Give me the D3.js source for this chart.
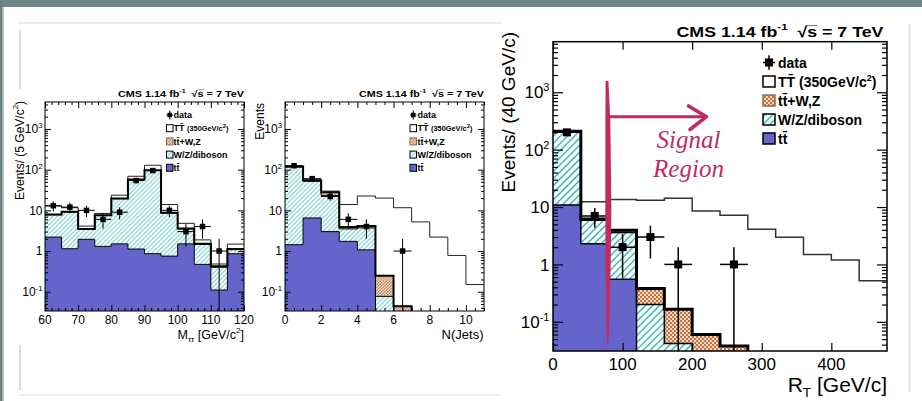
<!DOCTYPE html>
<html><head><meta charset="utf-8">
<script src="https://cdn.jsdelivr.net/npm/d3@7"></script>
<style>
body{margin:0;background:#fff}
svg{display:block}
</style>
</head><body>
<svg id="c" width="922" height="401" font-family="Liberation Sans, Arial, Helvetica, sans-serif"></svg>
<script>
// ---------------- DATA ----------------
// Panel 1 : M_tautau (bins of 5 GeV, lower edges)
const mttBins = [60,65,70,75,80,85,90,95,100,105,110,115];
const mttTT   = [2.2,1.14,1.94,1.3,1.5,1.12,0.86,0.75,1.5,0.47,0.11,0.86];
const mttWZ   = [5.6,7.96,1.46,6.2,17.9,55.7,95.1,7.85,2.0,0.99,0.29,0.22];
const mttTTV  = [0.1,0.1,0.1,0.1,0.2,0.3,0.4,0.1,0.1,0.05,0.02,0.05];
const mttSig  = [4.9,2.4,0.6,0.8,4.0,11.7,32,5.2,1.2,0.37,0.06,0.35];
const mttData = [13,12,10,6,9,54,95,10,3,4,1,0];
const mttTicks = [60,70,80,90,100,110,120];

// Panel 2 : N(Jets)
const njBins = [0,1,2,3,4,5,6,7,8,9,10];
const njTT   = [1.43,6.5,3.0,1.73,1.07,0,0,0,0,0,0];
const njWZ   = [114.6,45.5,20,1.77,2.63,0.077,0,0,0,0,0];
const njTTV  = [3,2.5,5,0.4,0.4,0.17,0.044,0,0,0,0];
const njSig  = [2,1.5,1.7,10,18.4,19.75,11.55,5.2,2.2,0.78,0.15];
const njData = [125,60,22,6,4,0,1,0,0,0,0];
const njTicks = [0,2,4,6,8,10];

// Panel 3 : R_T (bins of 40 GeV/c)
const rtBins = [0,40,80,120,160,200,240,280,320,360,400,440];
const rtTT   = [10.8,2.3,0.55,0,0,0,0,0,0,0,0,0];
const rtWZ   = [195,3.6,3.05,0.2,0.042,0,0,0,0,0,0,0];
const rtTTV  = [4,0.3,0.35,0.18,0.124,0.06,0.038,0,0,0,0,0];
const rtSig  = [2,6.2,9.6,12.8,14.0,8.44,7.16,4.1,2.96,1.49,1.19,0.52];
const rtData = [200,7,2,3,1,0,1,0,0,0,0,0];
const rtTicks = [0,100,200,300,400];

const yDecades = [0.1,1,10,100,1000];
const yDecadeLabels = ["10^{-1}","1","10","10^{2}","10^{3}"];
const titleText = "CMS 1.14 fb^{-1}  \u221As\u0305 = 7 TeV";
const legendBig   = ["data","TT\u0304 (350GeV/c^{2})","tt\u0304+W,Z","W/Z/diboson","tt\u0304"];
const legendSmall = ["data","TT\u0304 ~{(350GeV/c}^{2}~{)}","tt\u0304+W,Z","W/Z/diboson","tt\u0304"];
const annotationLines = ["Signal","Region"];

// ---------------- SETUP ----------------
const svg = d3.select('#c');
const defs = svg.append('defs');
svg.append('rect').attr('width',922).attr('height',401).attr('fill','#fff');

// page decorations
svg.append('rect').attr('x',0).attr('y',0).attr('width',922).attr('height',7).attr('fill','#6c8585');
svg.append('rect').attr('x',0).attr('y',0).attr('width',2.7).attr('height',401).attr('fill','#6c8282');
svg.append('rect').attr('x',2.7).attr('y',7).attr('width',1.4).attr('height',394).attr('fill','#b9c3c3');
svg.append('line').attr('x1',18).attr('x2',501).attr('y1',23).attr('y2',23).attr('stroke','#e4e4e4').attr('stroke-width',1.3);
svg.append('line').attr('x1',18).attr('x2',500).attr('y1',395).attr('y2',395).attr('stroke','#e8e8e8').attr('stroke-width',1.3);
svg.append('line').attr('x1',20).attr('x2',20).attr('y1',30).attr('y2',89).attr('stroke','#cfcfcf').attr('stroke-width',1.5);
svg.append('line').attr('x1',20).attr('x2',20).attr('y1',345).attr('y2',390).attr('stroke','#cfcfcf').attr('stroke-width',1.5);
svg.append('line').attr('x1',909.5).attr('x2',909.5).attr('y1',24).attr('y2',392).attr('stroke','#e2e2e2').attr('stroke-width',2);

// patterns
function hatch(id, s, color, sw){
  const p = defs.append('pattern').attr('id',id).attr('patternUnits','userSpaceOnUse')
    .attr('width',s).attr('height',s).attr('patternTransform','rotate(45)');
  p.append('rect').attr('width',s).attr('height',s).attr('fill','#fff');
  p.append('line').attr('x1',s/2).attr('y1',0).attr('x2',s/2).attr('y2',s).attr('stroke',color).attr('stroke-width',sw);
}
function checker(id, s, c1, c2){
  const p = defs.append('pattern').attr('id',id).attr('patternUnits','userSpaceOnUse')
    .attr('width',s).attr('height',s);
  p.append('rect').attr('width',s).attr('height',s).attr('fill',c2);
  p.append('rect').attr('width',s/2).attr('height',s/2).attr('fill',c1);
  p.append('rect').attr('x',s/2).attr('y',s/2).attr('width',s/2).attr('height',s/2).attr('fill',c1);
}
hatch('h1',3.2,'#5cc4c4',0.9);
hatch('h3',5,'#1aa8a8',1.3);
checker('k1',3,'#c88a5e','#f2dcc8');
checker('k3',4,'#bf7442','#f3d9c3');

// rich text: ^{sup} _{sub} ~{small}
function parseRich(s){
  const out=[]; const re=/(\^\{[^}]*\}|_\{[^}]*\}|~\{[^}]*\})/;
  s.split(re).forEach(tok=>{
    if(!tok) return;
    if(tok.startsWith('^{')) out.push({t:tok.slice(2,-1),k:'sup'});
    else if(tok.startsWith('_{')) out.push({t:tok.slice(2,-1),k:'sub'});
    else if(tok.startsWith('~{')) out.push({t:tok.slice(2,-1),k:'small'});
    else out.push({t:tok,k:'n'});
  });
  return out;
}
function richText(parent, str, o){
  const t = parent.append('text').attr('x',o.x||0).attr('y',o.y||0)
    .attr('font-size',o.size).attr('text-anchor',o.anchor||'start')
    .attr('font-weight',o.weight||'normal').attr('fill',o.fill||'#000')
    .style('white-space','pre');
  if(o.transform) t.attr('transform',o.transform);
  let cur=0;
  parseRich(str).forEach(p=>{
    let off=0, fs=o.size;
    if(p.k==='sup'){off=-o.size*0.42; fs=o.size*0.65;}
    else if(p.k==='sub'){off=o.size*0.25; fs=o.size*0.65;}
    else if(p.k==='small'){fs=o.size*(o.smallScale||0.8);}
    t.append('tspan').attr('dy',(off-cur).toFixed(2)).attr('font-size',fs).text(p.t);
    cur=off;
  });
  if(o.len) t.attr('textLength',o.len).attr('lengthAdjust','spacingAndGlyphs');
  return t;
}

// ---------------- PANELS ----------------
const BLUE = '#6464cb';
const panels = [
  {id:'p1', x0:45, x1:244, y0:102, y1:311, xDom:[60,120], yDom:[0.0336,4600],
   data:{bins:mttBins,w:5,tt:mttTT,wz:mttWZ,ttv:mttTTV,sig:mttSig,obs:mttData},
   xMajor:mttTicks, xMinorStep:2, majLen:6, minLen:3, yMajLen:6, yMinLen:3,
   tickFont:12, xLabY:323.5, yLabX:42.5,
   title:{x:244,y:96.5,size:9,len:126},
   xTitle:{text:"M_{\u03C4\u03C4} [GeV/c^{2}]",x:244,y:338.5,size:12.5},
   yTitle:{text:"Events/ (5 GeV/c^{2})",x:23.5,y:101,size:12},
   legend:{bx:166.5,tx:173.5,y0:115,dy:13.2,bw:6.5,bh:7,size:9,labels:legendSmall,mk:4.5},
   lw:{frame:1,comp:1,tot:2,sig:1,err:1,tick:1,mk:5.5},
   hatch:'h1',check:'k1',sigColor:'#222'},
  {id:'p2', x0:285, x1:484, y0:102, y1:311, xDom:[0,11], yDom:[0.0336,4600],
   data:{bins:njBins,w:1,tt:njTT,wz:njWZ,ttv:njTTV,sig:njSig,obs:njData},
   xMajor:njTicks, xMinorStep:0.5, majLen:6, minLen:3, yMajLen:6, yMinLen:3,
   tickFont:12, xLabY:323.5, yLabX:282,
   title:{x:484,y:96.5,size:9,len:125},
   xTitle:{text:"N(Jets)",x:483.5,y:338.5,size:13},
   yTitle:{text:"Events",x:263.5,y:103,size:12},
   legend:{bx:410,tx:417.5,y0:115,dy:13.2,bw:6.5,bh:7,size:9,labels:legendSmall,mk:4.5},
   lw:{frame:1,comp:1,tot:2,sig:1,err:1,tick:1,mk:5.5},
   hatch:'h1',check:'k1',sigColor:'#222'},
  {id:'p3', x0:553, x1:887, y0:41.7, y1:351, xDom:[0,480], yDom:[0.031,7600],
   data:{bins:rtBins,w:40,tt:rtTT,wz:rtWZ,ttv:rtTTV,sig:rtSig,obs:rtData},
   xMajor:rtTicks, xMinorStep:null, majLen:8, minLen:4, yMajLen:10, yMinLen:5,
   tickFont:17, xLabY:370, yLabX:549.5,
   title:{x:883.5,y:36.5,size:15,len:207},
   xTitle:{text:"R_{T} [GeV/c]",x:887,y:391.5,size:21},
   yTitle:{text:"Events/ (40 GeV/c)",x:514.5,y:32,size:19},
   legend:{bx:763,tx:778,y0:62.5,dy:19,bw:12,bh:11,size:14,labels:legendBig,mk:8},
   lw:{frame:1.5,comp:1.5,tot:3,sig:1.5,err:1.5,tick:1.2,mk:8},
   hatch:'h3',check:'k3',sigColor:'#333'}
];

function drawPanel(P){
  const D = P.data;
  const x = d3.scaleLinear().domain(P.xDom).range([P.x0,P.x1]);
  const y = d3.scaleLog().domain(P.yDom).range([P.y1,P.y0]);
  const clipId='clip'+P.id;
  defs.append('clipPath').attr('id',clipId).append('rect')
    .attr('x',P.x0).attr('y',P.y0).attr('width',P.x1-P.x0).attr('height',P.y1-P.y0);
  const g = svg.append('g');
  const pg = g.append('g').attr('clip-path',`url(#${clipId})`);
  const low = P.y1+30;
  const yv = v => v>0 ? y(v) : low;
  const n = D.bins.length;
  const end = D.bins[n-1]+D.w;
  const c1 = D.tt.slice();
  const c2 = c1.map((v,i)=>v+D.wz[i]);
  const c3 = c2.map((v,i)=>v+D.ttv[i]);
  const c4 = c3.map((v,i)=>v+D.sig[i]);

  // stacked fills as step areas (no seams)
  const area = d3.area().x(d=>x(d[0])).y0(d=>yv(d[1])).y1(d=>yv(d[2])).curve(d3.curveStepAfter);
  const ptsA = (lo,hi) => D.bins.map((b,i)=>[b, lo?lo[i]:0, hi[i]]).concat([[end, lo?lo[n-1]:0, hi[n-1]]]);
  [[null,c1,BLUE],[c1,c2,`url(#${P.hatch})`],[c2,c3,`url(#${P.check})`]].forEach(([lo,hi,fill])=>{
    pg.append('path').attr('d',area(ptsA(lo,hi))).attr('fill',fill);
  });
  const step = d3.line().x(d=>x(d[0])).y(d=>yv(d[1])).curve(d3.curveStepAfter);
  const pts = arr => D.bins.map((b,i)=>[b,arr[i]]).concat([[end, arr[n-1]]]);
  pg.append('path').attr('d',step(pts(c4))).attr('fill','none').attr('stroke',P.sigColor).attr('stroke-width',P.lw.sig);
  [c1,c2].forEach(c=>pg.append('path').attr('d',step(pts(c))).attr('fill','none')
    .attr('stroke','#000').attr('stroke-width',P.lw.comp));
  pg.append('path').attr('d',step(pts(c3))).attr('fill','none').attr('stroke','#000').attr('stroke-width',P.lw.tot);

  // data points
  const obs = D.bins.map((b,i)=>({b,v:D.obs[i]})).filter(d=>d.v>0);
  const dg = pg.append('g').attr('stroke','#000').attr('stroke-width',P.lw.err);
  dg.selectAll('line.v').data(obs).join('line').attr('class','v')
    .attr('x1',d=>x(d.b+D.w/2)).attr('x2',d=>x(d.b+D.w/2))
    .attr('y1',d=>y(d.v+Math.sqrt(d.v)))
    .attr('y2',d=>d.v-Math.sqrt(d.v)>0?y(d.v-Math.sqrt(d.v)):low);
  dg.selectAll('line.h').data(obs).join('line').attr('class','h')
    .attr('x1',d=>x(d.b)).attr('x2',d=>x(d.b+D.w)).attr('y1',d=>y(d.v)).attr('y2',d=>y(d.v));
  pg.append('g').selectAll('rect').data(obs).join('rect')
    .attr('x',d=>x(d.b+D.w/2)-P.lw.mk/2).attr('y',d=>y(d.v)-P.lw.mk/2)
    .attr('width',P.lw.mk).attr('height',P.lw.mk).attr('fill','#000');

  // axes ticks (inward, all four sides)
  const ax = (gen, tr, vals, len) => g.append('g').attr('transform',tr)
    .call(gen.tickValues(vals).tickSize(-len).tickFormat(''))
    .call(s=>{s.select('.domain').remove(); s.selectAll('line').attr('stroke','#000').attr('stroke-width',P.lw.tick);});
  let xMinor = [];
  if(P.xMinorStep){ xMinor = d3.range(P.xDom[0], P.xDom[1]+1e-9, P.xMinorStep).filter(v=>!P.xMajor.some(m=>Math.abs(m-v)<1e-9)); }
  const yMaj = yDecades.filter(v=>v>=P.yDom[0]&&v<=P.yDom[1]);
  const yMin = [];
  [0.01,0.1,1,10,100,1000].forEach(d=>{for(let k=2;k<=9;k++){const v=d*k; if(v>=P.yDom[0]&&v<=P.yDom[1]) yMin.push(v);}});
  ax(d3.axisBottom(x), `translate(0,${P.y1})`, P.xMajor, P.majLen);
  ax(d3.axisTop(x), `translate(0,${P.y0})`, P.xMajor, P.majLen);
  if(xMinor.length){
    ax(d3.axisBottom(x), `translate(0,${P.y1})`, xMinor, P.minLen);
    ax(d3.axisTop(x), `translate(0,${P.y0})`, xMinor, P.minLen);
  }
  ax(d3.axisLeft(y), `translate(${P.x0},0)`, yMaj, P.yMajLen);
  ax(d3.axisRight(y), `translate(${P.x1},0)`, yMaj, P.yMajLen);
  ax(d3.axisLeft(y), `translate(${P.x0},0)`, yMin, P.yMinLen);
  ax(d3.axisRight(y), `translate(${P.x1},0)`, yMin, P.yMinLen);

  g.append('rect').attr('x',P.x0).attr('y',P.y0).attr('width',P.x1-P.x0).attr('height',P.y1-P.y0)
    .attr('fill','none').attr('stroke','#000').attr('stroke-width',P.lw.frame);

  // tick labels
  P.xMajor.forEach(v=>g.append('text').attr('x',x(v)).attr('y',P.xLabY).attr('text-anchor','middle')
    .attr('font-size',P.tickFont).text(v));
  yDecades.forEach((v,i)=>{
    if(v<P.yDom[0]||v>P.yDom[1]) return;
    richText(g, yDecadeLabels[i], {x:P.yLabX, y:y(v)+P.tickFont*0.36, size:P.tickFont, anchor:'end'});
  });

  // titles
  richText(g, titleText, {x:P.title.x, y:P.title.y, size:P.title.size, anchor:'end', weight:'bold', len:P.title.len});
  richText(g, P.xTitle.text, {x:P.xTitle.x, y:P.xTitle.y, size:P.xTitle.size, anchor:'end'});
  richText(g, P.yTitle.text, {size:P.yTitle.size, anchor:'end', transform:`translate(${P.yTitle.x},${P.yTitle.y}) rotate(-90)`});

  // legend
  const L = P.legend;
  L.labels.forEach((lab,i)=>{
    const cy = L.y0 + i*L.dy;
    if(i===0){
      const cx = L.bx + L.bw/2;
      g.append('line').attr('x1',L.bx).attr('x2',L.bx+L.bw).attr('y1',cy).attr('y2',cy).attr('stroke','#000').attr('stroke-width',P.lw.err);
      g.append('line').attr('x1',cx).attr('x2',cx).attr('y1',cy-L.bh*0.65).attr('y2',cy+L.bh*0.65).attr('stroke','#000').attr('stroke-width',P.lw.err);
      g.append('rect').attr('x',cx-L.mk/2).attr('y',cy-L.mk/2).attr('width',L.mk).attr('height',L.mk).attr('fill','#000');
    } else {
      const fill = [null,'#fff',`url(#${P.check})`,`url(#${P.hatch})`,BLUE][i];
      g.append('rect').attr('x',L.bx).attr('y',cy-L.bh/2).attr('width',L.bw).attr('height',L.bh)
        .attr('fill',fill).attr('stroke',i===2?'#8a6a55':'#000').attr('stroke-width',P.lw.comp);
    }
    richText(g, lab, {x:L.tx, y:cy+L.size*0.36, size:L.size, weight:'bold', smallScale:0.82});
  });
}
panels.forEach(drawPanel);

// ---------------- ANNOTATION ----------------
const CRIM = '#bf2d5e';
const an = svg.append('g');
an.append('path').attr('d','M605.6,81 L608.4,81 L610.3,120 L611.4,210 L610.6,270 L609,333 L607.7,347 L606.4,333 L605.5,270 L605.3,200 L605.4,120 Z')
  .attr('fill',CRIM);
an.append('line').attr('x1',607).attr('x2',705).attr('y1',116.7).attr('y2',116.7)
  .attr('stroke',CRIM).attr('stroke-width',3).attr('stroke-linecap','round');
an.append('path').attr('d','M688.5,106 L706.5,116.7 L690,129.5').attr('fill','none')
  .attr('stroke',CRIM).attr('stroke-width',3.6).attr('stroke-linecap','round').attr('stroke-linejoin','round');
annotationLines.forEach((t,i)=>an.append('text').attr('x',688.5).attr('y',148+i*28.5)
  .attr('text-anchor','middle').attr('font-family','Liberation Serif, DejaVu Serif, serif')
  .attr('font-style','italic').attr('font-size',25).attr('fill',CRIM).text(t));
</script>
</body></html>
